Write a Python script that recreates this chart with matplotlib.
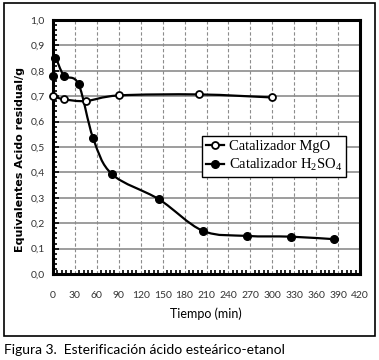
import numpy as np
import matplotlib
matplotlib.use('Agg')
import matplotlib.pyplot as plt
from matplotlib.path import Path
from matplotlib.patches import PathPatch, Rectangle
from matplotlib.ticker import MultipleLocator, FuncFormatter

# data
mgo_time = [0, 15, 45, 90, 200, 300]
mgo_acid = [0.700, 0.688, 0.681, 0.703, 0.707, 0.695]

h2so4_time = [0, 3, 15, 35, 55, 81, 145, 205, 265, 325, 385]
h2so4_acid = [0.781, 0.850, 0.781, 0.747, 0.534, 0.392, 0.294, 0.170, 0.150, 0.147, 0.137]

x_ticks = list(range(0, 421, 30))
y_ticks = [0.0, 0.1, 0.2, 0.3, 0.4, 0.5, 0.6, 0.7, 0.8, 0.9, 1.0]

series_labels = ['Catalizador MgO', 'Catalizador H$\\mathregular{_2}$SO$\\mathregular{_4}$']
x_label = 'Tiempo (min)'
y_label = 'Equivalentes Acido residual/g'
caption = 'Figura 3.  Esterificación ácido esteárico-etanol'


def smooth_path(xs, ys, tension=1 / 6):
    # bezier path through the points, like a spreadsheet "smoothed line"
    xs = np.asarray(xs, float)
    ys = np.asarray(ys, float)
    n = len(xs)
    verts = [(xs[0], ys[0])]
    codes = [Path.MOVETO]
    for i in range(n - 1):
        i0 = max(i - 1, 0)
        i3 = min(i + 2, n - 1)
        c1 = (xs[i] + (xs[i + 1] - xs[i0]) * tension, ys[i] + (ys[i + 1] - ys[i0]) * tension)
        c2 = (xs[i + 1] - (xs[i3] - xs[i]) * tension, ys[i + 1] - (ys[i3] - ys[i]) * tension)
        verts += [c1, c2, (xs[i + 1], ys[i + 1])]
        codes += [Path.CURVE4] * 3
    return Path(verts, codes)


fig = plt.figure(figsize=(3.79, 3.6), dpi=100)
ax = fig.add_axes([53 / 379, 1 - 274 / 360, 307 / 379, 254 / 360])

ax.set_xlim(0, 420)
ax.set_ylim(0, 1.0)

# grid
for t in x_ticks[1:-1]:
    ax.axvline(t, color='#8c8c8c', lw=0.8, ls=(0, (3, 2)), zorder=1)
for v in y_ticks[1:-1]:
    ax.axhline(v, color='#8c8c8c', lw=1.2, zorder=1)

ax.add_patch(PathPatch(smooth_path(mgo_time, mgo_acid), fc='none', ec='black', lw=1.6, zorder=3))
ax.add_patch(PathPatch(smooth_path(h2so4_time, h2so4_acid), fc='none', ec='black', lw=1.6, zorder=3))

ax.plot(mgo_time, mgo_acid, ls='none', marker='o', ms=5, mfc='white', mec='black', mew=1.3,
        zorder=7, clip_on=False)
ax.plot(h2so4_time, h2so4_acid, ls='none', marker='o', ms=5.5, mfc='black', mec='black',
        zorder=7, clip_on=False)

# legend handles
h1, = ax.plot([], [], color='black', lw=1.6, marker='o', ms=5, mfc='white', mec='black', mew=1.3)
h2, = ax.plot([], [], color='black', lw=1.6, marker='o', ms=5.5, mfc='black', mec='black')
leg = ax.legend([h1, h2], series_labels, loc='upper left', bbox_to_anchor=(0.485, 0.542),
                prop={'family': 'Liberation Serif', 'size': 10.5}, frameon=True, fancybox=False,
                edgecolor='black', framealpha=1, handlelength=1.3, handletextpad=0.3,
                borderpad=0.25, labelspacing=0.25, borderaxespad=0)
leg.get_frame().set_linewidth(1.0)
leg.set_zorder(5)

for s in ax.spines.values():
    s.set_linewidth(2.2)
    s.set_zorder(6)

ax.set_xticks(x_ticks)
ax.set_yticks(y_ticks)
ax.xaxis.set_minor_locator(MultipleLocator(6))
ax.yaxis.set_minor_locator(MultipleLocator(0.02))
ax.yaxis.set_major_formatter(FuncFormatter(lambda v, p: f'{v:.1f}'.replace('.', ',')))
ax.tick_params(which='both', direction='in', top=False, right=False, width=1.2, color='black')
ax.tick_params(which='major', length=4)
ax.tick_params(which='minor', length=3)
ax.tick_params(axis='x', which='major', pad=12, length=0)
ax.tick_params(axis='y', which='major', pad=6)
for lab in ax.get_xticklabels() + ax.get_yticklabels():
    lab.set_fontfamily('Lato')
    lab.set_fontsize(7.5)
    lab.set_color('#333333')

fig.text(206 / 379, 1 - 314 / 360, x_label, ha='center', va='center', fontfamily='Lato', fontsize=9)
fig.text(20 / 379, 1 - 160 / 360, y_label, ha='center', va='center', rotation=90,
         fontfamily='DejaVu Sans', fontweight='bold', fontsize=8)

fig.patches.append(Rectangle((3.5 / 379, 1 - 336 / 360), 371.5 / 379, 333 / 360,
                             transform=fig.transFigure, fill=False, ec='black', lw=1.2))
fig.text(4 / 379, 1 - 350 / 360, caption, ha='left', va='center', fontfamily='Lato', fontsize=10)

fig.savefig('out.png', dpi=100)
